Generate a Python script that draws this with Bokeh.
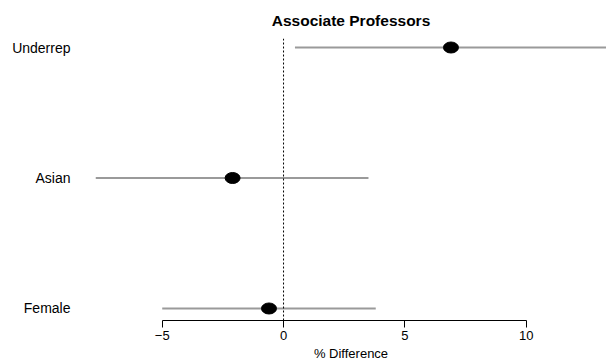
from bokeh.plotting import figure
from bokeh.models import Range1d, FixedTicker, Span
from bokeh.embed import file_html
from bokeh.resources import INLINE

# Data
categories = ["Female", "Asian", "Underrep"]
estimates = [-0.6, -2.1, 6.9]
ci_low = [-5.0, -7.75, 0.47]
ci_high = [3.8, 3.5, 13.4]
x_ticks = [-5, 0, 5, 10]
y_pos = [1, 2, 3]

FONT = "Liberation Sans"

p = figure(
    frame_width=511, frame_height=282,
    min_border_left=95, min_border_right=0,
    min_border_top=38, min_border_bottom=42,
    x_range=Range1d(-7.75, 13.31), y_range=Range1d(0.908, 3.069),
    output_backend="svg", toolbar_location=None,
    title="Associate Professors",
)
p.outline_line_color = None
p.xgrid.visible = False
p.ygrid.visible = False

p.title.text_font = FONT
p.title.text_font_size = "15.5px"
p.title.text_font_style = "bold"
p.title.text_color = "black"
p.title.align = "center"
p.title.standoff = 19

# Zero reference line
p.add_layout(Span(location=0, dimension="height", line_color="black",
                  line_width=1, line_dash="2 2"))

# Confidence intervals
p.segment(x0=ci_low, y0=y_pos, x1=ci_high, y1=y_pos,
          line_color="#9a9a9a", line_width=2)

# Point estimates
p.ellipse(x=estimates, y=y_pos, width=15, height=11,
          width_units="screen", height_units="screen",
          fill_color="black", line_color="black")

# X axis
xa = p.xaxis[0]
xa.ticker = FixedTicker(ticks=x_ticks)
xa.bounds = (min(x_ticks), max(x_ticks))
xa.major_label_overrides = {t: (f"\u2212{abs(t)}" if t < 0 else str(t)) for t in x_ticks}
xa.axis_label = "% Difference"
xa.axis_label_text_font = FONT
xa.axis_label_text_font_size = "13px"
xa.axis_label_text_font_style = "normal"
xa.axis_label_text_color = "black"
xa.axis_label_standoff = 3
xa.major_label_text_font = FONT
xa.major_label_text_font_size = "13px"
xa.major_label_text_color = "black"
xa.major_label_standoff = 3
xa.major_tick_in = 0
xa.major_tick_out = 7
xa.minor_tick_in = 0
xa.minor_tick_out = 0
xa.axis_line_color = "black"
xa.major_tick_line_color = "black"

# Y axis (category labels)
ya = p.yaxis[0]
ya.ticker = FixedTicker(ticks=y_pos)
ya.major_label_overrides = {y: c for y, c in zip(y_pos, categories)}
ya.major_label_text_font = FONT
ya.major_label_text_font_size = "14px"
ya.major_label_text_color = "black"
ya.major_label_standoff = 19
ya.axis_line_color = None
ya.major_tick_line_color = None
ya.minor_tick_line_color = None

open("out.html", "w").write(file_html(p, INLINE))
